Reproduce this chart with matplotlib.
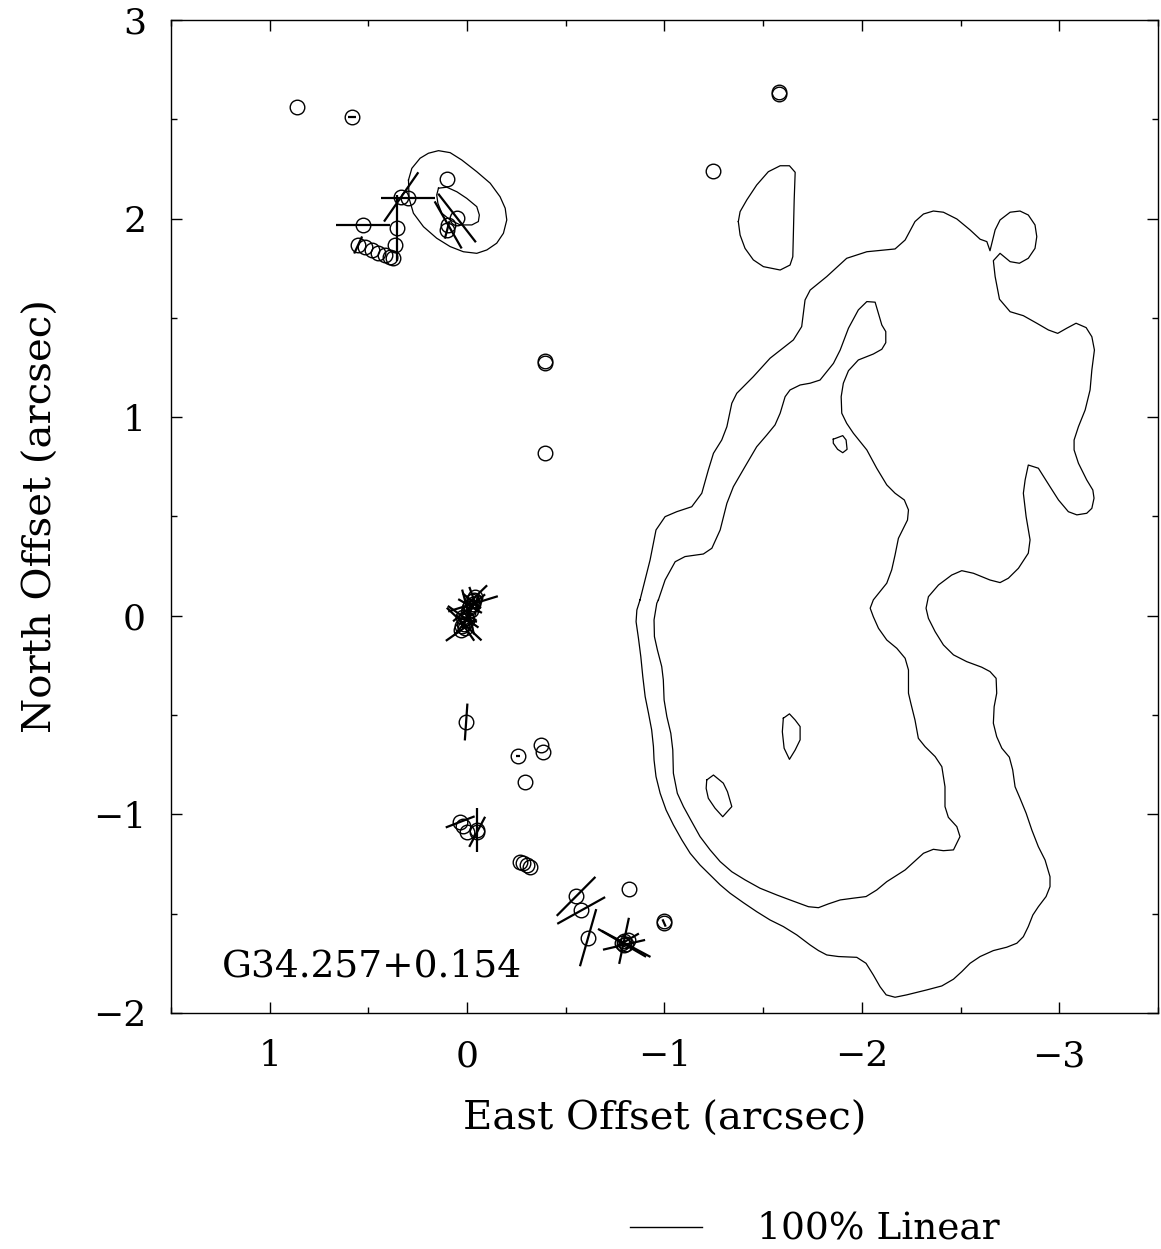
import numpy as np
import matplotlib
matplotlib.use("Agg")
import matplotlib.pyplot as plt
from matplotlib.ticker import MultipleLocator

# ---------------------------------------------------------------
# Continuum contours (east offset, north offset) in arcsec
# ---------------------------------------------------------------
outer_contour = [
    (-0.876, 0.080), (-0.927, 0.281), (-0.957, 0.432), (-1.003, 0.499), (-1.062, 0.524),
    (-1.138, 0.549), (-1.189, 0.617), (-1.222, 0.734), (-1.248, 0.818), (-1.290, 0.885),
    (-1.316, 0.952), (-1.341, 1.070), (-1.366, 1.120), (-1.450, 1.204), (-1.535, 1.297),
    (-1.653, 1.389), (-1.695, 1.456), (-1.712, 1.590), (-1.738, 1.640), (-1.822, 1.708),
    (-1.923, 1.800), (-2.025, 1.833), (-2.168, 1.847), (-2.219, 1.892), (-2.269, 1.985),
    (-2.312, 2.023), (-2.362, 2.038), (-2.413, 2.032), (-2.481, 1.998), (-2.548, 1.943),
    (-2.599, 1.896), (-2.633, 1.884), (-2.649, 1.838), (-2.675, 1.943), (-2.700, 1.993),
    (-2.751, 2.032), (-2.801, 2.038), (-2.843, 2.018), (-2.877, 1.968), (-2.886, 1.909),
    (-2.877, 1.850), (-2.843, 1.800), (-2.798, 1.775), (-2.751, 1.783), (-2.700, 1.825),
    (-2.666, 1.788), (-2.675, 1.708), (-2.697, 1.594), (-2.751, 1.531), (-2.818, 1.511),
    (-2.886, 1.473), (-2.945, 1.439), (-2.992, 1.422), (-3.038, 1.448), (-3.085, 1.473),
    (-3.136, 1.451), (-3.165, 1.405), (-3.178, 1.338), (-3.165, 1.238), (-3.156, 1.137),
    (-3.131, 1.036), (-3.097, 0.952), (-3.075, 0.885), (-3.075, 0.835), (-3.097, 0.768),
    (-3.139, 0.684), (-3.170, 0.633), (-3.176, 0.592), (-3.165, 0.541), (-3.139, 0.516),
    (-3.089, 0.508), (-3.046, 0.524), (-2.996, 0.583), (-2.953, 0.650), (-2.894, 0.743),
    (-2.843, 0.759), (-2.827, 0.684), (-2.818, 0.617), (-2.832, 0.499), (-2.852, 0.382),
    (-2.843, 0.315), (-2.793, 0.239), (-2.742, 0.189), (-2.700, 0.167), (-2.649, 0.180),
    (-2.565, 0.214), (-2.506, 0.227), (-2.455, 0.205), (-2.388, 0.155), (-2.337, 0.096),
    (-2.325, 0.038), (-2.337, -0.013), (-2.371, -0.080), (-2.413, -0.147), (-2.464, -0.197),
    (-2.531, -0.231), (-2.607, -0.259), (-2.649, -0.281), (-2.680, -0.315), (-2.683, -0.390),
    (-2.670, -0.458), (-2.666, -0.541), (-2.683, -0.609), (-2.709, -0.667), (-2.747, -0.712),
    (-2.764, -0.776), (-2.776, -0.861), (-2.801, -0.919), (-2.832, -0.994), (-2.861, -1.079),
    (-2.894, -1.163), (-2.928, -1.230), (-2.953, -1.314), (-2.953, -1.364), (-2.933, -1.414),
    (-2.894, -1.465), (-2.866, -1.507), (-2.843, -1.565), (-2.818, -1.616), (-2.785, -1.649),
    (-2.734, -1.669), (-2.666, -1.686), (-2.599, -1.716), (-2.548, -1.750), (-2.506, -1.792),
    (-2.464, -1.830), (-2.405, -1.864), (-2.329, -1.884), (-2.227, -1.909), (-2.168, -1.921),
    (-2.123, -1.909), (-2.092, -1.868), (-2.058, -1.809), (-2.021, -1.750), (-1.974, -1.720),
    (-1.881, -1.716), (-1.822, -1.708), (-1.780, -1.686), (-1.738, -1.658), (-1.670, -1.607),
    (-1.602, -1.565), (-1.535, -1.532), (-1.467, -1.490), (-1.400, -1.445), (-1.332, -1.397),
    (-1.282, -1.355), (-1.231, -1.305), (-1.180, -1.255), (-1.130, -1.196), (-1.088, -1.129),
    (-1.045, -1.053), (-1.008, -0.978), (-0.978, -0.894), (-0.957, -0.810), (-0.947, -0.726),
    (-0.944, -0.659), (-0.935, -0.575), (-0.919, -0.491), (-0.902, -0.407), (-0.890, -0.306),
    (-0.880, -0.206), (-0.868, -0.113), (-0.856, -0.030), (-0.860, 0.029),
]

inner_contour = [
    (-0.969, 0.080), (-1.003, 0.180), (-1.054, 0.272), (-1.104, 0.298), (-1.197, 0.311),
    (-1.240, 0.340), (-1.282, 0.432), (-1.316, 0.566), (-1.349, 0.650), (-1.408, 0.751),
    (-1.467, 0.851), (-1.518, 0.910), (-1.560, 0.961), (-1.586, 1.020), (-1.611, 1.103),
    (-1.636, 1.137), (-1.687, 1.162), (-1.738, 1.171), (-1.788, 1.187), (-1.856, 1.271),
    (-1.890, 1.338), (-1.932, 1.448), (-1.982, 1.540), (-2.025, 1.582), (-2.067, 1.579),
    (-2.101, 1.464), (-2.121, 1.431), (-2.121, 1.375), (-2.101, 1.342), (-2.058, 1.318),
    (-1.982, 1.288), (-1.932, 1.234), (-1.906, 1.171), (-1.895, 1.103), (-1.898, 1.020),
    (-1.923, 0.969), (-1.957, 0.919), (-2.025, 0.835), (-2.075, 0.743), (-2.126, 0.659),
    (-2.168, 0.617), (-2.215, 0.583), (-2.236, 0.533), (-2.231, 0.482), (-2.185, 0.390),
    (-2.168, 0.306), (-2.151, 0.231), (-2.126, 0.164), (-2.058, 0.080), (-2.042, 0.038),
    (-2.058, -0.005), (-2.084, -0.063), (-2.126, -0.122), (-2.177, -0.164), (-2.219, -0.214),
    (-2.236, -0.273), (-2.236, -0.390), (-2.248, -0.441), (-2.269, -0.525), (-2.286, -0.617),
    (-2.320, -0.659), (-2.371, -0.709), (-2.405, -0.760), (-2.421, -0.861), (-2.421, -0.961),
    (-2.438, -1.015), (-2.481, -1.062), (-2.497, -1.112), (-2.464, -1.179), (-2.413, -1.183),
    (-2.362, -1.176), (-2.312, -1.196), (-2.219, -1.280), (-2.126, -1.339), (-2.075, -1.381),
    (-2.021, -1.414), (-1.957, -1.422), (-1.890, -1.431), (-1.830, -1.451), (-1.780, -1.470),
    (-1.729, -1.465), (-1.636, -1.431), (-1.569, -1.406), (-1.484, -1.372), (-1.408, -1.330),
    (-1.341, -1.289), (-1.282, -1.238), (-1.231, -1.179), (-1.180, -1.112), (-1.133, -1.028),
    (-1.096, -0.961), (-1.065, -0.894), (-1.045, -0.793), (-1.042, -0.676), (-1.032, -0.592),
    (-1.012, -0.508), (-0.998, -0.424), (-0.994, -0.323), (-0.986, -0.256), (-0.964, -0.172),
    (-0.949, -0.105), (-0.947, -0.021), (-0.961, 0.063),
]

northern_island = [
    (-1.374, 1.985), (-1.383, 2.035), (-1.417, 2.094), (-1.467, 2.169), (-1.526, 2.236),
    (-1.586, 2.266), (-1.633, 2.266), (-1.662, 2.233), (-1.657, 2.094), (-1.653, 1.926),
    (-1.650, 1.808), (-1.636, 1.766), (-1.586, 1.741), (-1.501, 1.758), (-1.450, 1.792),
    (-1.408, 1.850), (-1.383, 1.917),
]

small_island = [
    (-1.855, 0.889), (-1.903, 0.907), (-1.920, 0.885), (-1.925, 0.838), (-1.903, 0.821),
    (-1.877, 0.838), (-1.855, 0.869),
]

peak_a = [
    (-1.602, -0.516), (-1.633, -0.494), (-1.662, -0.525), (-1.687, -0.558), (-1.687, -0.625),
    (-1.662, -0.676), (-1.633, -0.723), (-1.606, -0.667), (-1.597, -0.584),
]

peak_b = [
    (-1.214, -0.827), (-1.248, -0.802), (-1.298, -0.843), (-1.319, -0.886), (-1.341, -0.961),
    (-1.295, -1.012), (-1.256, -0.969), (-1.222, -0.919), (-1.211, -0.869),
]

knot_outer = [
    (0.297, 2.194), (0.280, 2.253), (0.238, 2.304), (0.196, 2.329), (0.145, 2.342),
    (0.086, 2.332), (0.027, 2.295), (-0.049, 2.236), (-0.117, 2.178), (-0.167, 2.110),
    (-0.193, 2.052), (-0.201, 1.993), (-0.184, 1.926), (-0.150, 1.876), (-0.100, 1.842),
    (-0.049, 1.825), (0.019, 1.833), (0.086, 1.859), (0.154, 1.901), (0.221, 1.959),
    (0.272, 2.027), (0.294, 2.102),
]

knot_inner = [
    (0.145, 2.153), (0.103, 2.158), (0.052, 2.135), (0.002, 2.102), (-0.049, 2.060),
    (-0.062, 2.018), (-0.057, 1.985), (-0.024, 1.968), (0.035, 1.968), (0.086, 1.993),
    (0.128, 2.027), (0.148, 2.077), (0.154, 2.119),
]

contours = [outer_contour, inner_contour, northern_island, small_island,
            peak_a, peak_b, knot_outer, knot_inner]

# ---------------------------------------------------------------
# Maser spots: offsets (arcsec), linear polarization (%) and PA (deg E of N)
# ---------------------------------------------------------------
spot_east = [
    0.861, 0.583, 0.101, 0.334, 0.299, 0.527, 0.355, 0.365,
    0.552, 0.517, 0.481, 0.451, 0.415, 0.390, 0.375,
    0.051, 0.096, 0.101,
    -0.395, -0.395, -0.395, -1.246, -1.581, -1.581,
    0.030, 0.015, 0.005, -0.005, -0.015, -0.025, -0.041, 0.000, -0.030,
    0.010, -0.020, -0.035, 0.020, -0.010, 0.025,
    0.005, -0.258, -0.375, -0.385, -0.294,
    0.035, 0.020, 0.000, -0.051, -0.051,
    -0.268, -0.284, -0.304, -0.319,
    -0.552, -0.578, -0.821, -0.613, -0.998, -0.998,
    -0.795, -0.805, -0.785, -0.795, -0.815,
]
spot_north = [
    2.562, 2.511, 2.199, 2.109, 2.104, 1.966, 1.953, 1.866,
    1.867, 1.857, 1.842, 1.827, 1.817, 1.807, 1.802,
    2.003, 1.968, 1.943,
    1.285, 1.272, 0.819, 2.238, 2.637, 2.627,
    -0.072, -0.042, -0.011, 0.019, 0.049, 0.074, 0.095, -0.021, 0.060,
    -0.060, 0.030, 0.080, -0.005, 0.040, -0.050,
    -0.535, -0.706, -0.650, -0.685, -0.838,
    -1.038, -1.058, -1.088, -1.078, -1.088,
    -1.239, -1.244, -1.254, -1.264,
    -1.413, -1.484, -1.376, -1.621, -1.537, -1.547,
    -1.637, -1.652, -1.647, -1.657, -1.632,
]
pol_percent = [
    0, 10, 0, 83, 76, 74, 90, 0,
    26, 0, 0, 0, 0, 0, 0,
    85, 75, 25,
    0, 0, 0, 0, 0, 0,
    52, 66, 30, 64, 38, 32, 46, 28, 72,
    44, 48, 38, 52, 58, 34,
    51, 5, 0, 0, 0,
    43, 0, 0, 60, 47,
    0, 0, 0, 0,
    76, 76, 0, 82, 0, 11,
    65, 77, 77, 60, 35,
]
pol_angle = [
    0, 90, 0, -35, 90, 90, 0, 0,
    -25, 0, 0, 0, 0, 0, 0,
    38, 30, -15,
    0, 0, 0, 0, 0, 0,
    -55, 47, -20, 15, 60, 51, -46, 80, -73,
    35, -30, 20, 55, -50, -40,
    -4, 90, 0, 0, 0,
    -69, 0, 0, 0, -28,
    0, 0, 0, 0,
    -45, -61, 0, -16, 0, 24,
    -12, 62, 60, -77, -60,
]

source_name = "G34.257+0.154"
scale_label = "100% Linear"
full_scale = 0.365  # arcsec drawn for 100 % linear polarization

plt.rcParams['font.family'] = ['DejaVu Serif']
plt.rcParams['axes.unicode_minus'] = True

fig = plt.figure(figsize=(11.61, 12.49), dpi=100)
ax = fig.add_axes([0.1473, 0.1890, 0.8501, 0.7950])

for c in contours:
    arr = np.array(c + [c[0]])
    ax.plot(arr[:, 0], arr[:, 1], color='black', lw=0.9)

ex = np.array(spot_east)
ny = np.array(spot_north)
p = np.array(pol_percent, dtype=float)
pa = np.radians(np.array(pol_angle, dtype=float))

ax.plot(ex, ny, linestyle='none', marker='o', markersize=10.5,
        markerfacecolor='none', markeredgecolor='black', markeredgewidth=1.0)

half = 0.5 * full_scale * p / 100.0
de = half * np.sin(pa)
dn = half * np.cos(pa)
for i in range(len(ex)):
    if p[i] <= 0:
        continue
    ax.plot([ex[i] - de[i], ex[i] + de[i]], [ny[i] - dn[i], ny[i] + dn[i]],
            color='black', lw=1.6, solid_capstyle='butt')

ax.set_xlim(1.5, -3.5)
ax.set_ylim(-2, 3)
ax.xaxis.set_major_locator(MultipleLocator(1))
ax.xaxis.set_minor_locator(MultipleLocator(0.5))
ax.yaxis.set_major_locator(MultipleLocator(1))
ax.yaxis.set_minor_locator(MultipleLocator(0.5))
ax.tick_params(which='both', direction='in', top=True, right=True, width=1.0,
               labelsize=26)
ax.tick_params(which='major', length=8)
ax.tick_params(which='minor', length=4.5)
ax.tick_params(axis='x', pad=19)
ax.tick_params(axis='y', pad=18)
for s in ax.spines.values():
    s.set_linewidth(1.0)

ax.set_xlabel("East Offset (arcsec)", fontsize=29, labelpad=20)
ax.set_ylabel("North Offset (arcsec)", fontsize=29, labelpad=24)

ax.text(1.241, -1.819, source_name, fontsize=27, ha='left', va='baseline')

# polarization scale bar below the axes
x0 = -0.826
ax.plot([x0, x0 - full_scale], [-3.078, -3.078], color='black', lw=1.0,
        clip_on=False)
ax.text(-1.469, -3.138, scale_label, fontsize=27, ha='left', va='baseline',
        clip_on=False)

fig.savefig("out.png", dpi=100)
